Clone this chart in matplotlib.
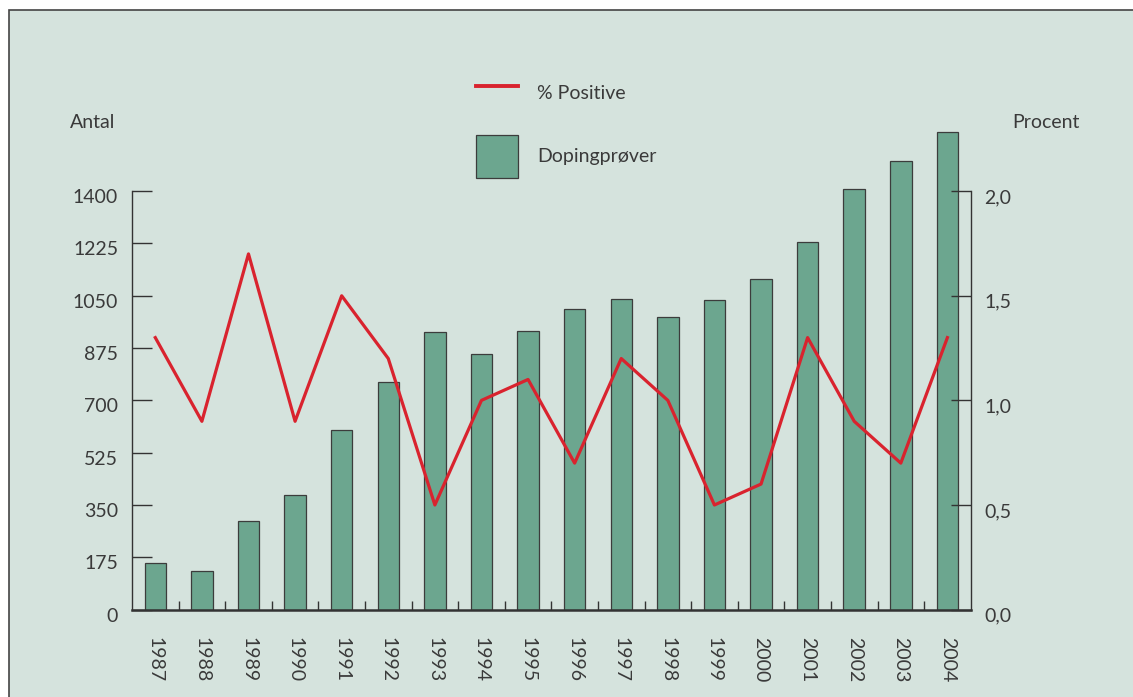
import matplotlib.pyplot as plt
from matplotlib.lines import Line2D
from matplotlib.patches import Patch, Rectangle
from matplotlib.transforms import ScaledTranslation

plt.rcParams['font.family'] = ['Lato', 'DejaVu Sans']

years = ["1987", "1988", "1989", "1990", "1991", "1992", "1993", "1994", "1995",
         "1996", "1997", "1998", "1999", "2000", "2001", "2002", "2003", "2004"]
samples = [157, 129, 297, 383, 601, 762, 929, 855, 932,
           1006, 1039, 979, 1036, 1106, 1230, 1407, 1502, 1599]
pct_positive = [1.3, 0.9, 1.7, 0.9, 1.5, 1.2, 0.5, 1.0, 1.1,
                0.7, 1.2, 1.0, 0.5, 0.6, 1.3, 0.9, 0.7, 1.3]
left_ticks = [0, 175, 350, 525, 700, 875, 1050, 1225, 1400]
right_ticks = [0.0, 0.5, 1.0, 1.5, 2.0]
right_labels = ["0,0", "0,5", "1,0", "1,5", "2,0"]

ink = "#333333"
text_ink = "#3a3a3a"
bar_color = "#6ca68f"
line_color = "#d9232e"
panel = "#d5e3dd"

fig = plt.figure(figsize=(11.33, 6.97), dpi=100, facecolor="white")
W, H = 1133, 697

# background panel with border, behind everything
fig.patches.append(Rectangle((9 / W, -0.05), 1.1, 1 - 10 / H + 0.05,
                             transform=fig.transFigure, facecolor=panel,
                             edgecolor="#444444", linewidth=1.2, zorder=-10))

ax = fig.add_axes([132 / W, 1 - 609.6 / H, (970.7 - 132) / W, (609.6 - 125.4) / H])
ax.set_facecolor("none")
ymax = 1620
x = list(range(len(years)))
ax.bar(x, samples, width=0.46, color=bar_color, edgecolor="#3c3c3c", linewidth=0.9, zorder=2)
ax.set_xlim(-0.5, len(years) - 0.5)
ax.set_ylim(0, ymax)

ax.set_yticks(left_ticks)
ax.set_yticklabels([str(t) for t in left_ticks])
ax.tick_params(axis="y", direction="in", length=14.4, width=1.0, color=ink,
               labelsize=14, labelcolor=text_ink, pad=10)
ax.set_xticks(x)
ax.set_xticklabels(years, rotation=270)
ax.tick_params(axis="x", which="major", length=0, labelsize=14, labelcolor=text_ink, pad=20)
ax.set_xticks([i + 0.5 for i in x[:-1]], minor=True)
ax.tick_params(axis="x", which="minor", direction="in", length=6.5, width=1.0, color=ink)

for s in ["top", "right"]:
    ax.spines[s].set_visible(False)
ax.spines["left"].set_bounds(0, 1400)
ax.spines["left"].set_color(ink)
ax.spines["left"].set_linewidth(1.0)
ax.spines["bottom"].set_color(ink)
ax.spines["bottom"].set_linewidth(1.8)

ax2 = ax.twinx()
ax2.plot(x, pct_positive, color=line_color, linewidth=2.3, zorder=3)
ax2.set_ylim(0, ymax / 700)
ax2.set_yticks(right_ticks)
ax2.set_yticklabels(right_labels)
ax2.tick_params(axis="y", direction="in", length=14.4, width=1.0, color=ink,
                labelsize=14, labelcolor=text_ink, pad=10)
for s in ["top", "left", "bottom"]:
    ax2.spines[s].set_visible(False)
ax2.spines["right"].set_bounds(0, 2.0)
ax2.spines["right"].set_color(ink)
ax2.spines["right"].set_linewidth(1.0)

# y tick labels sit a little below their ticks in the original
shift = ScaledTranslation(0, -5 / 100, fig.dpi_scale_trans)
for lab in ax.get_yticklabels() + ax2.get_yticklabels():
    lab.set_transform(lab.get_transform() + shift)

fig.text(70 / W, 1 - 123 / H, "Antal", fontsize=14, color=text_ink, ha="left", va="center")
fig.text(1012 / W, 1 - 123 / H, "Procent", fontsize=14, color=text_ink, ha="left", va="center")

handles = [Line2D([], [], color=line_color, linewidth=2.8),
           Patch(facecolor=bar_color, edgecolor="#3c3c3c", linewidth=0.9)]
fig.legend(handles, ["% Positive", "Dopingprøver"], loc="upper left",
           bbox_to_anchor=(476 / W, 1 - 72 / H), bbox_transform=fig.transFigure,
           frameon=False, fontsize=14, labelcolor=text_ink, borderpad=0, borderaxespad=0,
           handlelength=2.15, handleheight=3.03, handletextpad=1.0, labelspacing=1.0)

fig.savefig("out.png", dpi=100, facecolor="white")
